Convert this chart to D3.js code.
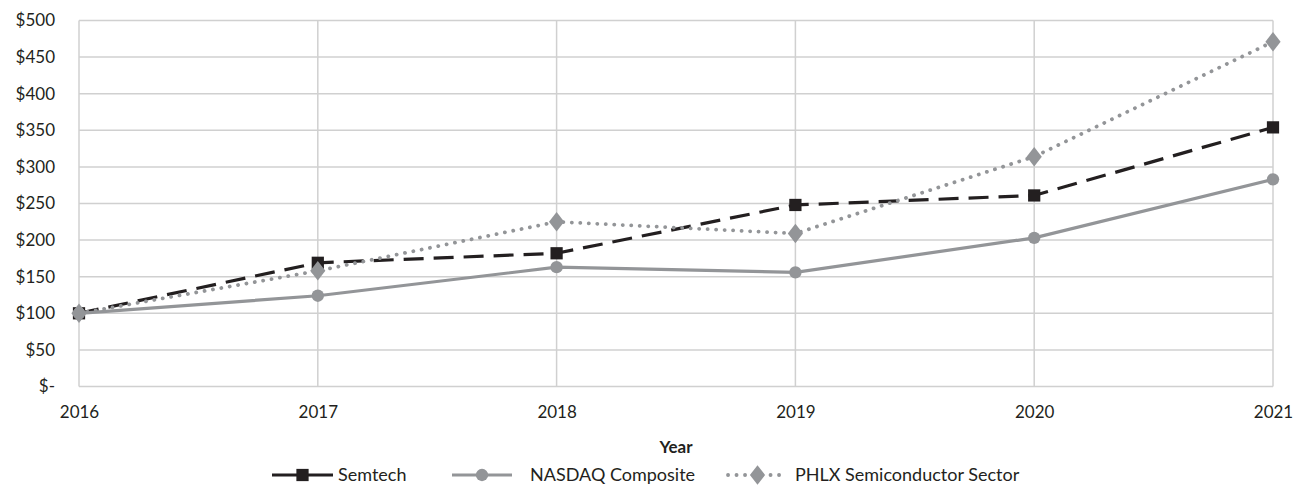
<!DOCTYPE html>
<html>
<head>
<meta charset="utf-8">
<script src="https://cdn.jsdelivr.net/npm/d3@7"></script>
<style>
  html, body { margin: 0; padding: 0; background: #fff; }
  svg { display: block; font-family: Lato, "Open Sans", sans-serif; }
</style>
</head>
<body>
<svg id="chart" width="1297" height="486"></svg>
<script>
const years = ["2016", "2017", "2018", "2019", "2020", "2021"];
const semtech = [100, 169, 182, 248, 261, 354];
const nasdaq = [100, 124, 163, 156, 203, 283];
const phlx = [100, 158, 225, 209, 314, 471];
const yTicks = [0, 50, 100, 150, 200, 250, 300, 350, 400, 450, 500];

const ink = "#231f20";
const grey = "#939598";
const gridColor = "#d0d0d0";

const svg = d3.select("#chart");
const margin = { top: 20.5, right: 24, bottom: 99.5, left: 79 };
const width = 1297 - margin.left - margin.right;
const height = 486 - margin.top - margin.bottom;

const x = d3.scalePoint().domain(years).range([0, width]);
const y = d3.scaleLinear().domain([0, 500]).range([height, 0]);

const g = svg.append("g").attr("transform", `translate(${margin.left},${margin.top})`);

// grid + frame
g.append("g")
  .selectAll("line.h")
  .data(yTicks)
  .join("line")
  .attr("x1", 0).attr("x2", width)
  .attr("y1", (d) => y(d)).attr("y2", (d) => y(d))
  .attr("stroke", gridColor).attr("stroke-width", 1.5);

g.append("g")
  .selectAll("line.v")
  .data(years)
  .join("line")
  .attr("x1", (d) => x(d)).attr("x2", (d) => x(d))
  .attr("y1", 0).attr("y2", height)
  .attr("stroke", gridColor).attr("stroke-width", 1.5);

// y labels
const yAxis = g.append("g")
  .call(d3.axisLeft(y).tickValues(yTicks).tickSize(0).tickPadding(24)
    .tickFormat((d) => d === 0 ? "$-" : "$" + d));
yAxis.select(".domain").remove();
yAxis.selectAll("text").attr("fill", ink).attr("font-size", 17).attr("font-family", "Lato, sans-serif");

// x labels
const xAxis = g.append("g")
  .attr("transform", `translate(0,${height})`)
  .call(d3.axisBottom(x).tickSize(0).tickPadding(19));
xAxis.select(".domain").remove();
xAxis.selectAll("text").attr("fill", ink).attr("font-size", 17).attr("font-family", "Lato, sans-serif");

g.append("text")
  .attr("x", width / 2)
  .attr("y", height + 66)
  .attr("text-anchor", "middle")
  .attr("font-weight", "bold")
  .attr("font-size", 17)
  .attr("fill", ink)
  .text("Year");

const series = [
  { name: "Semtech", values: semtech, color: ink, dash: "20,10", cap: "butt", width: 3.2, marker: "square" },
  { name: "NASDAQ Composite", values: nasdaq, color: grey, dash: null, cap: "butt", width: 3.2, marker: "circle" },
  { name: "PHLX Semiconductor Sector", values: phlx, color: grey, dash: "0.1,8.4", cap: "round", width: 3.8, marker: "diamond" }
];

const symbolFor = {
  square: d3.symbol(d3.symbolSquare, 150),
  circle: d3.symbol(d3.symbolCircle, 120),
  diamond: d3.symbol(d3.symbolDiamond, 110)
};

const line = d3.line().x((d) => x(d.year)).y((d) => y(d.value));

series.forEach((s) => {
  const rows = years.map((year, i) => ({ year, value: s.values[i] }));
  g.append("path")
    .datum(rows)
    .attr("d", line)
    .attr("fill", "none")
    .attr("stroke", s.color)
    .attr("stroke-width", s.width)
    .attr("stroke-linecap", s.cap)
    .attr("stroke-dasharray", s.dash);

  g.append("g")
    .selectAll("path")
    .data(rows)
    .join("path")
    .attr("transform", (d) => `translate(${x(d.year)},${y(d.value)})` + (s.marker === "diamond" ? " scale(1.35,1)" : ""))
    .attr("d", symbolFor[s.marker])
    .attr("fill", s.color);
});

// legend
const legendY = 475;
const legendItems = [
  { s: series[0], x0: 272, x1: 333, tx: 338 },
  { s: series[1], x0: 452, x1: 512, tx: 530 },
  { s: series[2], x0: 728, x1: 787, tx: 795 }
];
const legend = svg.append("g");
legendItems.forEach((item) => {
  const s = item.s;
  legend.append("line")
    .attr("x1", item.x0).attr("x2", item.x1)
    .attr("y1", legendY).attr("y2", legendY)
    .attr("stroke", s.color)
    .attr("stroke-width", s.width)
    .attr("stroke-linecap", s.cap)
    .attr("stroke-dasharray", s.marker === "diamond" ? "0.1,8.4" : null);
  const cx = (item.x0 + item.x1) / 2;
  legend.append("path")
    .attr("transform", `translate(${cx},${legendY})` + (s.marker === "diamond" ? " scale(1.35,1)" : ""))
    .attr("d", symbolFor[s.marker])
    .attr("fill", s.color);
  legend.append("text")
    .attr("x", item.tx)
    .attr("y", legendY)
    .attr("dy", "0.35em")
    .attr("font-size", 18)
    .attr("fill", ink)
    .text(s.name);
});
</script>
</body>
</html>
